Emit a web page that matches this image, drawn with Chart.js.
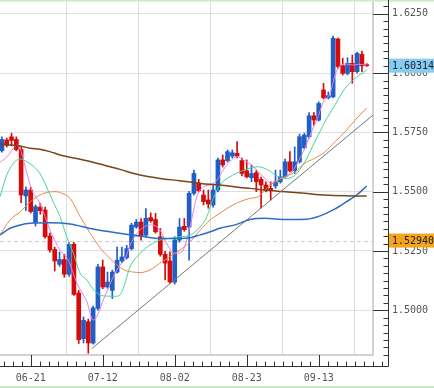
<!DOCTYPE html>
<html>
<head>
<meta charset="utf-8">
<script src="https://cdn.jsdelivr.net/npm/chart.js@4.4.0/dist/chart.umd.min.js"></script>
<style>
  html, body { margin: 0; padding: 0; background: #fff; }
  #wrap { width: 434px; height: 388px; position: relative; }
</style>
</head>
<body>
<div id="wrap"><canvas id="chart" width="434" height="388"></canvas></div>
<script>
// daily candles, 2010-06-11 .. 2010-09-27
const dates = ['06-11','06-14','06-15','06-16','06-17','06-18','06-21','06-22','06-23','06-24','06-25',
  '06-28','06-29','06-30','07-01','07-02','07-05','07-06','07-07','07-08','07-09','07-12','07-13','07-14',
  '07-15','07-16','07-19','07-20','07-21','07-22','07-23','07-26','07-27','07-28','07-29','07-30','08-02',
  '08-03','08-04','08-05','08-06','08-09','08-10','08-11','08-12','08-13','08-16','08-17','08-18','08-19',
  '08-20','08-23','08-24','08-25','08-26','08-27','08-30','08-31','09-01','09-02','09-03','09-06','09-07',
  '09-08','09-09','09-10','09-13','09-14','09-15','09-16','09-17','09-20','09-21','09-22','09-23','09-24','09-27'];

const opens = [1.5673,1.5718,1.5731,1.5720,1.5678,1.5482,1.5507,1.5369,1.5435,1.5423,1.5313,1.5256,1.5194,1.5214,
  1.5152,1.5278,1.5073,1.4880,1.4952,1.4862,1.5008,1.5183,1.5098,1.5084,1.5161,1.5208,1.5222,1.5260,1.5351,1.5372,
  1.5317,1.5391,1.5383,1.5310,1.5236,1.5208,1.5119,1.5296,1.5354,1.5351,1.5493,1.5537,1.5486,1.5465,1.5444,1.5507,
  1.5634,1.5631,1.5650,1.5662,1.5631,1.5588,1.5559,1.5580,1.5552,1.5528,1.5514,1.5524,1.5542,1.5563,1.5626,1.5588,
  1.5626,1.5685,1.5732,1.5820,1.5802,1.5929,1.5896,1.5900,1.6144,1.6031,1.5999,1.6041,1.6006,1.6079,1.6035];
const highs = [1.5731,1.5726,1.5746,1.5731,1.5688,1.5521,1.5519,1.5444,1.5451,1.5435,1.5325,1.5266,1.5245,1.5236,
  1.5287,1.5287,1.5084,1.4972,1.4963,1.5018,1.5194,1.5212,1.5161,1.5169,1.5267,1.5267,1.5274,1.5367,1.5383,1.5387,
  1.5429,1.5411,1.5409,1.5345,1.5249,1.5246,1.5310,1.5387,1.5387,1.5502,1.5591,1.5552,1.5507,1.5507,1.5528,1.5642,
  1.5655,1.5676,1.5676,1.5711,1.5642,1.5634,1.5613,1.5591,1.5562,1.5542,1.5542,1.5591,1.5591,1.5638,1.5669,1.5689,
  1.5743,1.5747,1.5834,1.5834,1.5879,1.5957,1.5921,1.6156,1.6148,1.6063,1.6065,1.6076,1.6089,1.6093,1.6040];
const lows = [1.5667,1.5688,1.5693,1.5672,1.5454,1.5420,1.5410,1.5355,1.5405,1.5304,1.5245,1.5166,1.5185,1.5139,
  1.5143,1.5063,1.4860,1.4862,1.4819,1.4857,1.5001,1.5091,1.5093,1.5049,1.5156,1.5202,1.5216,1.5254,1.5346,1.5296,
  1.5308,1.5371,1.5325,1.5228,1.5128,1.5114,1.5110,1.5287,1.5333,1.5211,1.5486,1.5499,1.5444,1.5430,1.5435,1.5499,
  1.5604,1.5625,1.5642,1.5642,1.5566,1.5558,1.5542,1.5500,1.5432,1.5499,1.5465,1.5514,1.5536,1.5558,1.5583,1.5577,
  1.5621,1.5680,1.5726,1.5781,1.5798,1.5891,1.5891,1.5895,1.6021,1.5992,1.5992,1.5957,1.6000,1.6006,1.6028];
const closes = [1.5720,1.5695,1.5716,1.5678,1.5486,1.5507,1.5416,1.5437,1.5420,1.5310,1.5254,1.5208,1.5214,1.5152,
  1.5278,1.5067,1.4876,1.4958,1.4862,1.5010,1.5183,1.5098,1.5119,1.5161,1.5211,1.5225,1.5260,1.5359,1.5372,1.5313,
  1.5388,1.5377,1.5331,1.5236,1.5199,1.5119,1.5296,1.5351,1.5340,1.5493,1.5577,1.5504,1.5458,1.5448,1.5507,1.5634,
  1.5613,1.5669,1.5664,1.5650,1.5577,1.5563,1.5577,1.5542,1.5528,1.5504,1.5504,1.5542,1.5563,1.5626,1.5588,1.5626,
  1.5732,1.5739,1.5820,1.5802,1.5872,1.5896,1.5905,1.6147,1.6027,1.5999,1.6041,1.6006,1.6083,1.6031,1.60314];

// moving averages as [candle index, price]
const maFast = [[-0.4,1.5625],[1,1.5646],[2.7,1.5690],[3.3,1.5697],[4,1.5669],[5.2,1.5578],[6.2,1.5507],
  [7.9,1.5452],[10,1.5339],[12.1,1.5254],[13.8,1.5212],[15.6,1.5115],[17.7,1.5036],[19,1.4959],[19.75,1.4973],
  [21.1,1.5043],[22.2,1.5094],[23.2,1.5142],[24.6,1.5191],[25.6,1.5212],[26.7,1.5275],[28.8,1.5339],[31.2,1.5360],
  [32.9,1.5339],[34.7,1.5268],[36.1,1.5240],[37.5,1.5247],[38.5,1.5296],[39.5,1.5381],[40.6,1.5479],[42,1.5521],
  [43.4,1.5528],[44.8,1.5549],[46.1,1.5592],[47.5,1.5627],[48.9,1.5648],[50.3,1.5634],[52,1.5613],[53.4,1.5584],
  [54.8,1.5557],[56.2,1.5535],[57.6,1.5549],[59,1.5563],[60.4,1.5584],[61.75,1.5626],[63.1,1.5683],[64.5,1.5753],
  [65.6,1.5802],[67,1.5879],[68.4,1.5916],[69.4,1.5992],[70.4,1.6030],[71.8,1.6038],[73.1,1.6034],[74.25,1.6037],[76,1.6034]];
const maMid = [[-0.4,1.5479],[1,1.5570],[2.4,1.5620],[3.8,1.5638],[5.2,1.5626],[6.5,1.5608],[7.9,1.5577],
  [9.3,1.5521],[10.7,1.5456],[12.1,1.5395],[13.5,1.5310],[14.9,1.5240],[16.3,1.5156],[17.7,1.5128],[19,1.5090],
  [20.4,1.5065],[21.8,1.5060],[23.6,1.5059],[24.6,1.5065],[25.3,1.5093],[26.7,1.5183],[28.8,1.5240],[30.85,1.5275],
  [32.9,1.5296],[35,1.5303],[37.1,1.5310],[39.2,1.5317],[41.3,1.5351],[42.7,1.5395],[44,1.5471],[45.4,1.5528],
  [47.5,1.5563],[49.6,1.5584],[51.7,1.5600],[53.4,1.5605],[55.5,1.5591],[57.6,1.5563],[59.4,1.5556],[61.1,1.5570],
  [63.1,1.5626],[65.2,1.5711],[67.3,1.5795],[69.4,1.5866],[71.5,1.5936],[73.6,1.5978],[76,1.6013]];
const maSlow = [[-0.4,1.5318],[1.7,1.5381],[3.8,1.5415],[5.9,1.5457],[7.9,1.5486],[10,1.5499],[11.3,1.5500],
  [12.5,1.5493],[14.2,1.5472],[16.3,1.5395],[18.4,1.5325],[20.4,1.5265],[22.5,1.5219],[23.9,1.5192],[25.6,1.5169],
  [27.4,1.5161],[28.8,1.5159],[30.85,1.5170],[32.9,1.5198],[35,1.5226],[37.1,1.5254],[39.2,1.5289],[41.3,1.5338],
  [43.4,1.5381],[45.4,1.5409],[47.5,1.5437],[49.6,1.5458],[51.7,1.5472],[53.4,1.5479],[54.8,1.5507],[56.9,1.5542],
  [59,1.5563],[61.1,1.5584],[63.1,1.5620],[65.2,1.5641],[67.3,1.5668],[69.4,1.5711],[71.5,1.5753],[73.6,1.5802],[76,1.5853]];
const maLong = [[-0.4,1.5318],[1.7,1.5346],[3.8,1.5360],[5.9,1.5367],[10,1.5369],[14.2,1.5364],[18.4,1.5345],
  [22.5,1.5331],[26.7,1.5318],[29.8,1.5310],[32.9,1.5303],[37.1,1.5303],[39.2,1.5306],[41.3,1.5318],[43.4,1.5331],
  [45.4,1.5346],[48.6,1.5360],[51.7,1.5383],[54.8,1.5388],[57.6,1.5384],[60,1.5383],[63.5,1.5384],[66.3,1.5398],
  [69,1.5423],[71.8,1.5458],[73.9,1.5486],[76,1.5524]];
const ma200 = [[-0.4,1.5701],[1.7,1.5697],[3.8,1.5693],[5.9,1.5683],[7.9,1.5679],[10,1.5669],[12.1,1.5655],
  [14.2,1.5645],[16.3,1.5637],[18.4,1.5627],[20.4,1.5617],[22.5,1.5605],[24.6,1.5594],[28.8,1.5570],[32.9,1.5556],
  [37.1,1.5546],[41.3,1.5535],[45.4,1.5528],[49.6,1.5518],[51.7,1.5514],[54.8,1.5507],[59,1.5500],[63.1,1.5493],
  [67.3,1.5486],[71.5,1.5483],[76,1.5482]];
const trendLine = [[18.7,1.4838],[77.31,1.5823]];

const otherPrice = 1.5294;
const lastPrice = 1.60314;
const labelIdx = [6, 21, 36, 51, 66];
const priceTicks = [1.5000, 1.5250, 1.5500, 1.5750, 1.6000, 1.6250];

const UP = '#1f5fc6', DOWN = '#d80a0a';
const candleColor = c => closes[c.dataIndex] >= opens[c.dataIndex] ? UP : DOWN;
const pts = a => a.map(p => ({x: p[0], y: p[1]}));
const FONT = {family: 'DejaVu Sans Mono', size: 10};

function lineSet(data, color, width) {
  return {type: 'line', data: pts(data), borderColor: color, borderWidth: width, pointRadius: 0,
    cubicInterpolationMode: 'monotone', order: 0};
}

const deco = {
  id: 'deco',
  beforeDatasetsDraw(chart) {
    const {ctx, chartArea, scales: {y}} = chart;
    const py = Math.round(y.getPixelForValue(otherPrice)) + 0.5;
    ctx.save();
    ctx.strokeStyle = '#cccccc';
    ctx.lineWidth = 1;
    ctx.setLineDash([4, 3]);
    ctx.beginPath();
    ctx.moveTo(chartArea.left, py);
    ctx.lineTo(chartArea.right, py);
    ctx.stroke();
    ctx.restore();
  },
  afterDraw(chart) {
    const {ctx, chartArea, scales: {x, y}} = chart;
    const W = chart.width, axX = 388.5, axY = 366.5;
    ctx.save();
    // frame lines
    ctx.fillStyle = '#c4efc4';
    ctx.fillRect(0, 0, W, 1.5);
    ctx.fillRect(0, 386, W, 2);
    ctx.strokeStyle = '#333';
    ctx.lineWidth = 1;
    ctx.beginPath();
    ctx.moveTo(axX, 0); ctx.lineTo(axX, axY);
    ctx.lineTo(0, axY);
    // price ticks, 8 per step
    const step = 0.025 / 8;
    for (let k = 0; k < 60; k++) {
      const v = 1.475 + k * step;
      const p = Math.round(y.getPixelForValue(v)) + 0.5;
      if (p < 2 || p > 362) continue;
      ctx.moveTo(k % 8 === 0 ? chartArea.right : axX - 5, p);
      ctx.lineTo(axX, p);
    }
    // date ticks, 8 per 15 candles
    for (let k = -8; k < 64; k++) {
      const v = 6 + k * 15 / 8;
      const p = Math.round(x.getPixelForValue(v)) + 0.5;
      if (p < 0 || p > axX) continue;
      ctx.moveTo(p, (k % 8 === 0) ? chartArea.bottom : axY - 5);
      ctx.lineTo(p, axY);
    }
    ctx.stroke();
    // price boxes
    ctx.font = '10px "DejaVu Sans Mono"';
    ctx.textBaseline = 'middle';
    [[lastPrice, '#86cdf3'], [otherPrice, '#f5a41c']].forEach(([v, col]) => {
      const p = y.getPixelForValue(v);
      ctx.fillStyle = col;
      ctx.fillRect(axX + 0.5, p - 7, W - axX, 14);
      ctx.fillStyle = '#222';
      ctx.fillText(v.toFixed(5), 392, p + 0.5);
    });
    ctx.restore();
  }
};

new Chart(document.getElementById('chart'), {
  type: 'bar',
  data: {
    datasets: [
      lineSet(trendLine, '#777777', 1),
      lineSet(ma200, '#7a4414', 1.5),
      lineSet(maLong, '#2a6dc6', 1.5),
      lineSet(maSlow, '#e8884a', 1),
      lineSet(maMid, '#3fd894', 1),
      lineSet(maFast, '#e67ce6', 1),
      {
        data: dates.map((d, i) => ({x: i, y: [lows[i], highs[i]]})),
        backgroundColor: candleColor, barThickness: 1, grouped: false, order: 2
      },
      {
        data: dates.map((d, i) => ({x: i, y: [opens[i], closes[i]]})),
        backgroundColor: candleColor, barThickness: 4, minBarLength: 1, grouped: false, order: 1
      }
    ]
  },
  options: {
    responsive: false,
    animation: false,
    layout: {padding: 0},
    plugins: {legend: {display: false}, tooltip: {enabled: false}},
    scales: {
      x: {
        type: 'linear',
        min: -0.4,
        max: 77.31,
        offset: false,
        afterBuildTicks: s => { s.ticks = labelIdx.map(v => ({value: v})); },
        afterFit: s => { s.height = 33; s.paddingLeft = 0; s.paddingRight = 0; },
        grid: {color: '#dedede', drawTicks: false},
        border: {color: '#d2d2d2', width: 2},
        ticks: {font: FONT, color: '#555', padding: 17, maxRotation: 0, callback: v => dates[v]}
      },
      y: {
        type: 'linear',
        position: 'right',
        min: 1.48115,
        max: 1.63082,
        afterBuildTicks: s => { s.ticks = priceTicks.map(v => ({value: v})); },
        afterFit: s => { s.width = 61; s.paddingTop = 0; s.paddingBottom = 0; },
        grid: {color: '#dedede', drawTicks: false},
        border: {color: '#d2d2d2', width: 2},
        ticks: {font: FONT, color: '#555', padding: 19, callback: v => v.toFixed(4)}
      }
    }
  },
  plugins: [deco]
});
</script>
</body>
</html>
